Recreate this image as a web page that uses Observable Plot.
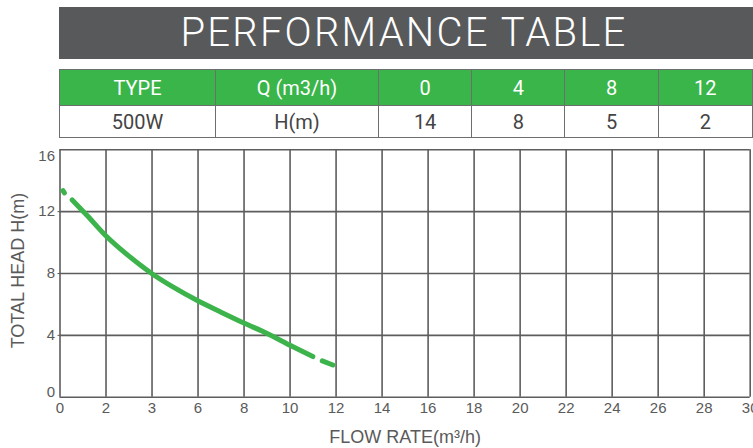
<!DOCTYPE html>
<html>
<head>
<meta charset="utf-8">
<script src="https://cdn.jsdelivr.net/npm/d3@7"></script>
<script src="https://cdn.jsdelivr.net/npm/@observablehq/plot@0.6"></script>
<style>
  html, body { margin: 0; padding: 0; background: #fff; }
  body { width: 753px; height: 448px; position: relative; overflow: hidden; }
  #title {
    position: absolute; left: 59px; top: 7px; width: 694px; height: 52px;
    background: #58595b; color: #fff;
    font-family: Roboto, sans-serif; font-weight: 300; font-size: 40px;
    letter-spacing: 2.2px; line-height: 52px; text-align: center; text-indent: -4px;
  }
  #perf {
    position: absolute; left: 59px; top: 69px; border-collapse: collapse;
    font-family: Roboto, sans-serif; font-size: 20px; font-weight: 400;
  }
  #perf td { border: 1.5px solid #6d6e70; text-align: center; padding: 0; }
  #perf tr.head td { background: #39b54a; color: #fff; height: 35px; }
  #perf tr.body td { background: #fff; color: #444; height: 31px; }
  #chart { position: absolute; left: 0; top: 140px; }
</style>
</head>
<body>
<div id="title"></div>
<table id="perf"></table>
<div id="chart"></div>
<script>
// ---- data ----
const titleText = "PERFORMANCE TABLE";
const tableHeader = ["TYPE", "Q (m3/h)", "0", "4", "8", "12"];
const tableRow = ["500W", "H(m)", "14", "8", "5", "2"];
const columnWidths = [156, 163, 93, 93, 93, 94];

const xTicks = [0, 2, 4, 6, 8, 10, 12, 14, 16, 18, 20, 22, 24, 26, 28, 30];
const xTickLabels = ["0", "2", "3", "6", "8", "10", "12", "14", "16", "18", "20", "22", "24", "26", "28", "30"];
const yTicks = [0, 4, 8, 12, 16];

const curveQ = [0.13, 0.19, 0.53, 1.18, 1.98, 2.92, 3.97, 5.0, 5.97, 7.0, 7.99, 9.0, 10.02, 10.99, 11.4, 11.86];
const curveH = [13.36, 13.22, 12.76, 11.75, 10.46, 9.22, 8.02, 7.05, 6.25, 5.5, 4.8, 4.12, 3.34, 2.63, 2.35, 2.08];
const curveSeg = ["start", "start", "main", "main", "main", "main", "main", "main", "main", "main", "main", "main", "main", "main", "end", "end"];

const xLabel = "FLOW RATE(m³/h)";
const yLabel = "TOTAL HEAD H(m)";

// ---- title & table ----
document.getElementById("title").textContent = titleText;
const table = document.getElementById("perf");
[[tableHeader, "head"], [tableRow, "body"]].forEach(([cells, cls]) => {
  const tr = document.createElement("tr");
  tr.className = cls;
  cells.forEach((c, i) => {
    const td = document.createElement("td");
    td.textContent = c;
    td.style.width = columnWidths[i] + "px";
    tr.appendChild(td);
  });
  table.appendChild(tr);
});

// ---- chart ----
const curve = curveQ.map((q, i) => ({q, h: curveH[i], seg: curveSeg[i]}));
const gridColor = "#5d5d5d";
const textColor = "#5a5a5a";

const chart = Plot.plot({
  width: 753,
  height: 308,
  marginLeft: 59.5,
  marginRight: 3.3,
  marginTop: 9.3,
  marginBottom: 51.3,
  style: {fontFamily: "'Liberation Sans', Arial, sans-serif", background: "transparent", overflow: "visible"},
  x: {domain: [0, 30]},
  y: {domain: [0, 16]},
  marks: [
    Plot.ruleX(xTicks, {stroke: gridColor, strokeWidth: 1.6}),
    Plot.ruleY(yTicks, {stroke: gridColor, strokeWidth: 1.6}),
    Plot.axisX({ticks: xTicks, tickSize: 0, tickPadding: 5, fontSize: 15, color: textColor,
      tickFormat: (d) => xTickLabels[xTicks.indexOf(d)], label: null}),
    Plot.axisY({ticks: [4, 8, 12], tickSize: 2, tickPadding: 3, fontSize: 15, color: textColor, label: null}),
    Plot.text([yTicks[0]], {x: 0, y: (d) => d, text: (d) => String(d), textAnchor: "end", dx: -5, dy: -5, fontSize: 15, fill: textColor}),
    Plot.text([yTicks[yTicks.length - 1]], {x: 0, y: (d) => d, text: (d) => String(d), textAnchor: "end", dx: -5, dy: 6, fontSize: 15, fill: textColor}),
    Plot.text([xLabel], {frameAnchor: "bottom", lineAnchor: "middle", dy: 40, fontSize: 18, fill: textColor}),
    Plot.text([yLabel], {frameAnchor: "left", textAnchor: "middle", lineAnchor: "middle", rotate: -90, dx: -41.5, dy: -3, fontSize: 18, fill: textColor}),
    Plot.line(curve, {x: "q", y: "h", z: "seg", stroke: "#3cb44b", strokeWidth: 5, strokeLinecap: "round", curve: "catmull-rom"})
  ]
});
document.getElementById("chart").appendChild(chart);
</script>
</body>
</html>
